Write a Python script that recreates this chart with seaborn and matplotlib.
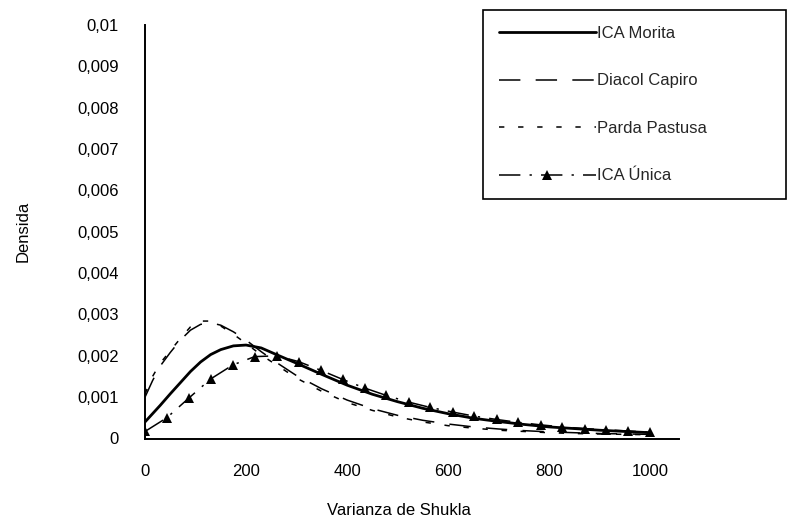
import matplotlib
matplotlib.use("Agg")
import matplotlib.pyplot as plt
import seaborn as sns

# Curvas suavizadas (Morita, Diacol Capiro, Parda Pastusa)
x_curva = [0, 15, 30, 50, 70, 90, 110, 130, 150, 175, 200, 230, 260, 300,
           350, 400, 450, 500, 550, 600, 650, 700, 750, 800, 850, 900, 950, 1000]
ica_morita = [0.00040, 0.00060, 0.00080, 0.00108, 0.00135, 0.00162, 0.00185,
              0.00203, 0.00215, 0.00224, 0.00226, 0.00219, 0.00203, 0.00182,
              0.00155, 0.00129, 0.00107, 0.00089, 0.00073, 0.00060, 0.00049,
              0.00041, 0.00034, 0.00028, 0.00024, 0.00020, 0.00017, 0.00014]
diacol_capiro = [0.00100, 0.00140, 0.00175, 0.00208, 0.00238, 0.00262, 0.00276,
                 0.00280, 0.00274, 0.00258, 0.00238, 0.00210, 0.00184, 0.00152,
                 0.00120, 0.00093, 0.00072, 0.00056, 0.00044, 0.00035, 0.00028,
                 0.00023, 0.00019, 0.00016, 0.00014, 0.00012, 0.00011, 0.00010]
parda_pastusa = [0.00108, 0.00150, 0.00182, 0.00212, 0.00242, 0.00270, 0.00284,
                 0.00284, 0.00272, 0.00252, 0.00230, 0.00202, 0.00178, 0.00146,
                 0.00114, 0.00087, 0.00068, 0.00052, 0.00040, 0.00031, 0.00025,
                 0.00020, 0.00017, 0.00014, 0.00012, 0.00011, 0.00010, 0.00009]

# ICA Única (con marcadores)
x_unica = [0, 43, 87, 130, 174, 217, 261, 304, 348, 391, 435, 478, 522, 565,
           609, 652, 696, 739, 783, 826, 870, 913, 957, 1000]
ica_unica = [0.00017, 0.00050, 0.00098, 0.00144, 0.00178, 0.00198, 0.00200,
             0.00186, 0.00165, 0.00143, 0.00122, 0.00104, 0.00088, 0.00075,
             0.00064, 0.00054, 0.00046, 0.00039, 0.00033, 0.00028, 0.00024,
             0.00021, 0.00018, 0.00015]

x_ticks = [0, 200, 400, 600, 800, 1000]
y_ticks = [0, 0.001, 0.002, 0.003, 0.004, 0.005, 0.006, 0.007, 0.008, 0.009, 0.01]
y_tick_labels = ["0", "0,001", "0,002", "0,003", "0,004", "0,005",
                 "0,006", "0,007", "0,008", "0,009", "0,01"]

sns.set_style("white")
plt.rcParams["font.family"] = ["Liberation Sans", "DejaVu Sans"]

W, H = 789, 527
fig = plt.figure(figsize=(W / 100, H / 100), dpi=100)
ax = fig.add_axes([145 / W, 1 - 438.5 / H, (679 - 145) / W, (438.5 - 25) / H])

sns.lineplot(x=x_curva, y=ica_morita, ax=ax, color="black", linewidth=2.0,
             label="ICA Morita")
sns.lineplot(x=x_curva, y=diacol_capiro, ax=ax, color="black", linewidth=1.1,
             linestyle=(0, (14, 10)), label="Diacol Capiro")
sns.lineplot(x=x_curva, y=parda_pastusa, ax=ax, color="black", linewidth=1.1,
             linestyle=(0, (3.5, 9)), label="Parda Pastusa")
sns.lineplot(x=x_unica, y=ica_unica, ax=ax, color="black", linewidth=1.1,
             linestyle=(0, (14, 6, 1.5, 6)), marker="^", markersize=7,
             markeredgewidth=0, label="ICA Única")

ax.set_xlim(0, 1057)
ax.set_ylim(0, 0.01)
ax.set_xticks(x_ticks)
ax.set_xticklabels([str(t) for t in x_ticks])
ax.set_yticks(y_ticks)
ax.set_yticklabels(y_tick_labels)

for s in ["top", "right"]:
    ax.spines[s].set_visible(False)
for s in ["left", "bottom"]:
    ax.spines[s].set_color("black")
    ax.spines[s].set_linewidth(1.4)

ax.tick_params(axis="both", direction="out", length=6, width=1.4,
               color="black", labelcolor="black", labelsize=12)
ax.tick_params(axis="y", pad=13)
ax.tick_params(axis="x", pad=12)

ax.set_xlabel("Varianza de Shukla", fontsize=12, color="black")
ax.set_ylabel("Densida", fontsize=12, color="black")
ax.xaxis.set_label_coords(0.475, -0.155)
ax.yaxis.set_label_coords(-0.215, 0.5)

handles, labels = ax.get_legend_handles_labels()
leg = ax.legend(handles, labels, loc="upper left",
                bbox_to_anchor=(483 / W, 1 - 10 / H, (786 - 483) / W, 0),
                bbox_transform=fig.transFigure, mode="expand",
                frameon=True, fancybox=False, framealpha=1, edgecolor="black",
                fontsize=12, handlelength=5.8, handletextpad=0.1,
                labelspacing=1.95, borderpad=0.95, borderaxespad=0, numpoints=1)
leg.get_frame().set_linewidth(1.2)

fig.savefig("out.png", dpi=100)
